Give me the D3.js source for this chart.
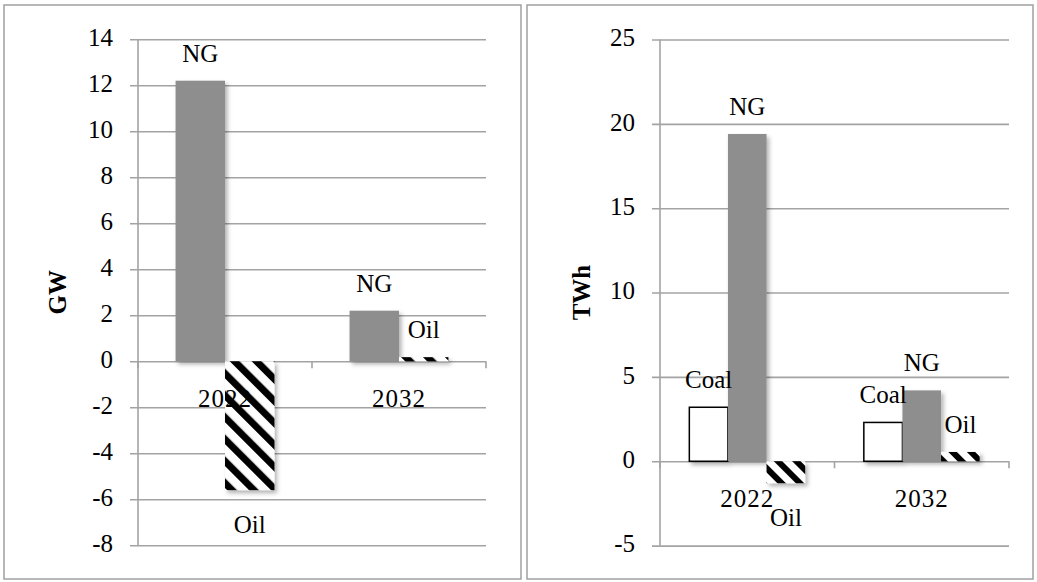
<!DOCTYPE html>
<html>
<head>
<meta charset="utf-8">
<script src="https://cdn.jsdelivr.net/npm/d3@7"></script>
<style>
  html, body { margin: 0; padding: 0; background: #fff; }
  svg { display: block; }
</style>
</head>
<body>
<svg id="chart" width="1037" height="582" font-family="'Liberation Serif', 'DejaVu Serif', serif"></svg>
<script>
// ---- data ----
const categories = ["2022", "2032"];

// capacity change (GW)
const capacitySeries = ["NG", "Oil"];
const capacityNG  = [12.2, 2.2];
const capacityOil = [-5.6, 0.18];
const capacityTicks = [-8, -6, -4, -2, 0, 2, 4, 6, 8, 10, 12, 14];

// generation change (TWh)
const energySeries = ["Coal", "NG", "Oil"];
const energyCoal = [3.2, 2.3];
const energyNG   = [19.4, 4.2];
const energyOil  = [-1.3, 0.55];
const energyTicks = [-5, 0, 5, 10, 15, 20, 25];

// ---- drawing ----
const FONT = "'Liberation Serif', 'DejaVu Serif', serif";
const svg = d3.select("#chart");
const defs = svg.append("defs");

defs.append("filter")
    .attr("id", "barShadow")
    .attr("x", "-20%").attr("y", "-20%").attr("width", "150%").attr("height", "150%")
  .append("feDropShadow")
    .attr("dx", 2.5).attr("dy", 3).attr("stdDeviation", 2.2)
    .attr("flood-color", "#000").attr("flood-opacity", 0.3);

function hatch(id, period, thick) {
  const p = defs.append("pattern")
      .attr("id", id)
      .attr("patternUnits", "userSpaceOnUse")
      .attr("width", period).attr("height", period)
      .attr("patternTransform", "rotate(-45)");
  p.append("rect").attr("width", period).attr("height", period).attr("fill", "#fff");
  p.append("rect").attr("width", thick).attr("height", period).attr("fill", "#000");
}
hatch("hatchL", 15.5, 7);
hatch("hatchR", 13, 6);

const GRID = "#a3a3a3";

function label(sel) {
  return sel.attr("font-family", FONT).attr("font-size", 25).attr("fill", "#000");
}

function drawPanel(cfg) {
  const g = svg.append("g");

  // frame
  g.append("rect")
      .attr("x", cfg.frame[0]).attr("y", cfg.frame[1])
      .attr("width", cfg.frame[2]).attr("height", cfg.frame[3])
      .attr("fill", "#fff").attr("stroke", "#a0a0a0").attr("stroke-width", 1.5);

  const y = d3.scaleLinear().domain(cfg.domain).range([cfg.bottom, cfg.top]);
  const x0 = d3.scaleBand().domain(categories).range([cfg.left, cfg.right]).padding(0);
  const x1 = d3.scaleBand().domain(cfg.series).range([0, x0.bandwidth()])
      .paddingInner(0).paddingOuter(0.76);

  // gridlines with left tick stubs
  const yAxis = d3.axisLeft(y).tickValues(cfg.ticks)
      .tickSize(-(cfg.right - cfg.left)).tickSizeOuter(0).tickFormat("");
  const ga = g.append("g").attr("transform", `translate(${cfg.left},0)`).call(yAxis);
  ga.select(".domain").remove();
  ga.selectAll(".tick line")
      .attr("x1", -8).attr("stroke", GRID).attr("stroke-width", 1.6);

  // vertical axis line
  g.append("line")
      .attr("x1", cfg.left).attr("x2", cfg.left)
      .attr("y1", y(cfg.domain[1])).attr("y2", y(cfg.domain[0]))
      .attr("stroke", GRID).attr("stroke-width", 1.6);

  // tick labels
  g.append("g").selectAll("text")
    .data(cfg.ticks).join("text")
      .call(label)
      .attr("x", cfg.left - 25)
      .attr("y", d => y(d) + 1)
      .attr("text-anchor", "end")
      .attr("dominant-baseline", "middle")
      .text(d => d);

  // category ticks on the zero line
  const xb = [cfg.left, ...categories.slice(1).map(c => x0(c)), cfg.right];
  g.append("g").selectAll("line")
    .data(xb).join("line")
      .attr("x1", d => d).attr("x2", d => d)
      .attr("y1", y(0)).attr("y2", y(0) + 7)
      .attr("stroke", GRID).attr("stroke-width", 1.6);

  // bars
  const rows = [];
  categories.forEach((c, i) => {
    cfg.series.forEach((s, j) => {
      rows.push({ cat: c, series: s, value: cfg.values[j][i] });
    });
  });

  const style = {
    Coal: { fill: "#fff", stroke: "#000", sw: 1.5 },
    NG:   { fill: "#8e8e8e", stroke: "none", sw: 0 },
    Oil:  { fill: `url(#${cfg.hatch})`, stroke: "none", sw: 0 }
  };

  g.append("g").attr("filter", "url(#barShadow)")
    .selectAll("rect")
    .data(rows).join("rect")
      .attr("x", d => x0(d.cat) + x1(d.series))
      .attr("width", x1.bandwidth())
      .attr("y", d => y(Math.max(0, d.value)))
      .attr("height", d => Math.abs(y(d.value) - y(0)))
      .attr("fill", d => style[d.series].fill)
      .attr("stroke", d => style[d.series].stroke)
      .attr("stroke-width", d => style[d.series].sw);

  // category labels
  g.append("g").selectAll("text")
    .data(categories).join("text")
      .call(label)
      .attr("x", d => x0(d) + x0.bandwidth() / 2)
      .attr("y", y(0) + 46)
      .attr("text-anchor", "middle")
      .attr("letter-spacing", 1)
      .text(d => d);

  // series name labels at the bar ends
  g.append("g").selectAll("text")
    .data(rows).join("text")
      .call(label)
      .attr("x", d => x0(d.cat) + x1(d.series) + x1.bandwidth() / 2)
      .attr("y", d => d.value >= 0 ? y(d.value) - 19 : y(d.value) + 43)
      .attr("text-anchor", "middle")
      .text(d => d.series);

  // axis title
  g.append("text")
      .call(label)
      .attr("transform", `translate(${cfg.titleX},${(cfg.top + cfg.bottom) / 2}) rotate(-90)`)
      .attr("text-anchor", "middle")
      .attr("dominant-baseline", "middle")
      .attr("font-weight", "bold")
      .text(cfg.title);
}

drawPanel({
  frame: [4, 5, 517, 574],
  left: 138, right: 486, top: 39.3, bottom: 545.3,
  domain: [-8, 14], ticks: capacityTicks,
  series: capacitySeries, values: [capacityNG, capacityOil],
  hatch: "hatchL", title: "GW", titleX: 60
});

drawPanel({
  frame: [527, 5, 506, 574],
  left: 660, right: 1009, top: 39.5, bottom: 545.6,
  domain: [-5, 25], ticks: energyTicks,
  series: energySeries, values: [energyCoal, energyNG, energyOil],
  hatch: "hatchR", title: "TWh", titleX: 584
});
</script>
</body>
</html>
